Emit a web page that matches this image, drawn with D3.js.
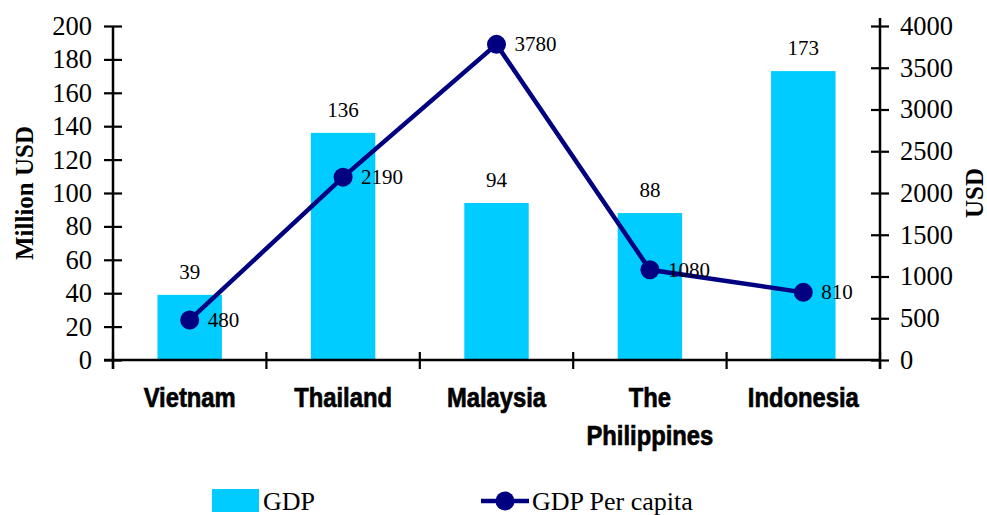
<!DOCTYPE html>
<html><head><meta charset="utf-8">
<script src="https://cdn.jsdelivr.net/npm/d3@7"></script>
<style>body{margin:0;background:#fff}</style>
</head><body>
<svg id="c" width="987" height="515"></svg>
<script>
const categories = ["Vietnam","Thailand","Malaysia","The\nPhilippines","Indonesia"];
const gdp = [39,136,94,88,173];
const gdpPerCapita = [480,2190,3780,1080,810];
const leftTicks = [0,20,40,60,80,100,120,140,160,180,200];
const rightTicks = [0,500,1000,1500,2000,2500,3000,3500,4000];

const svg = d3.select("#c");
const L=113, R=880, T=26, B=360;
const x = d3.scaleBand().domain(categories).range([L,R]).paddingInner(0).paddingOuter(0);
const yL = d3.scaleLinear().domain([0,200]).range([B,T]);
const yR = d3.scaleLinear().domain([0,4000]).range([B,T]);
const serif = "'Liberation Serif','Times New Roman',serif";
const sans = "'Liberation Sans',Arial,sans-serif";

// bars
const bw = x.bandwidth()*0.42;
svg.append("g").selectAll("rect").data(gdp).join("rect")
  .attr("x",(d,i)=>x(categories[i])+x.bandwidth()/2-bw/2)
  .attr("y",d=>yL(d)).attr("width",bw).attr("height",d=>B-yL(d))
  .attr("fill","#00CCFF");
svg.append("g").selectAll("text").data(gdp).join("text")
  .attr("x",(d,i)=>x(categories[i])+x.bandwidth()/2)
  .attr("y",d=>yL(d)-16).attr("text-anchor","middle")
  .attr("font-family",serif).attr("font-size",21).text(d=>d);

// axes
function styleAxis(g){
  g.select(".domain").attr("stroke","#000").attr("stroke-width",2.5);
  g.selectAll(".tick line").attr("stroke","#000").attr("stroke-width",2.2);
}
const gl = svg.append("g").attr("transform",`translate(${L},0)`)
  .call(d3.axisLeft(yL).tickValues(leftTicks).tickFormat(d3.format("d")).tickSize(9).tickSizeOuter(0));
styleAxis(gl);
gl.selectAll(".tick line").attr("x1",9).attr("x2",-9);
gl.selectAll(".tick text").attr("font-family",serif).attr("font-size",26.5).attr("fill","#000").attr("x",-21);

const gr = svg.append("g").attr("transform",`translate(${R},0)`)
  .call(d3.axisRight(yR).tickValues(rightTicks).tickFormat(d3.format("d")).tickSize(9).tickSizeOuter(0));
styleAxis(gr);
gr.selectAll(".tick line").attr("x1",-9).attr("x2",9);
gr.selectAll(".tick text").attr("font-family",serif).attr("font-size",26.5).attr("fill","#000").attr("x",20);
gr.select(".domain").attr("d",`M0,${T-8}V${B+9}`);
gl.select(".domain").attr("d",`M0,${T}V${B+9}`);

const gb = svg.append("g").attr("transform",`translate(0,${B})`)
  .call(d3.axisBottom(x).tickValues([]).tickSizeOuter(0));
gb.select(".domain").attr("stroke","#000").attr("stroke-width",2.5).attr("d",`M${L-9},0H${R}`);
const bticks = d3.range(categories.length+1).map(i=> i<categories.length ? x(categories[i]) : R);
gb.selectAll("line.bt").data(bticks).join("line").attr("class","bt")
  .attr("x1",d=>d).attr("x2",d=>d).attr("y1",-8).attr("y2",9)
  .attr("stroke","#000").attr("stroke-width",2.2);

// category labels
svg.append("g").selectAll("g").data(categories).join("g")
  .attr("transform",d=>`translate(${x(d)+x.bandwidth()/2},407) scale(0.85,1)`)
  .each(function(d){
    const t=d3.select(this).append("text").attr("text-anchor","middle")
      .attr("font-family",sans).attr("font-weight","bold").attr("font-size",28)
      .attr("fill","#000").attr("stroke","#000").attr("stroke-width",0.7);
    d.split("\n").forEach((p,j)=>t.append("tspan").attr("x",0).attr("dy",j?38:0).text(p));
  });

// line
const line = d3.line().x((d,i)=>x(categories[i])+x.bandwidth()/2).y(d=>yR(d));
svg.append("path").datum(gdpPerCapita).attr("d",line).attr("fill","none")
  .attr("stroke","#000080").attr("stroke-width",4.5);
svg.append("g").selectAll("circle").data(gdpPerCapita).join("circle")
  .attr("cx",(d,i)=>x(categories[i])+x.bandwidth()/2).attr("cy",d=>yR(d)).attr("r",9.5)
  .attr("fill","#000080");
svg.append("g").selectAll("text").data(gdpPerCapita).join("text")
  .attr("x",(d,i)=>x(categories[i])+x.bandwidth()/2+18).attr("y",d=>yR(d)+7)
  .attr("font-family",serif).attr("font-size",21).text(d=>d);

// axis titles
svg.append("text").attr("transform","translate(33,193) rotate(-90)").attr("text-anchor","middle")
  .attr("font-family",serif).attr("font-weight","bold").attr("font-size",25).text("Million USD");
svg.append("text").attr("transform","translate(983,193) rotate(-90)").attr("text-anchor","middle")
  .attr("font-family",serif).attr("font-weight","bold").attr("font-size",25).text("USD");

// legend
const lg = svg.append("g");
lg.append("rect").attr("x",212).attr("y",489).attr("width",47).attr("height",23).attr("fill","#00CCFF");
lg.append("text").attr("x",263).attr("y",510).attr("font-family",serif).attr("font-size",26).text("GDP");
lg.append("line").attr("x1",481).attr("x2",529).attr("y1",501).attr("y2",501).attr("stroke","#000080").attr("stroke-width",4.5);
lg.append("circle").attr("cx",505).attr("cy",501).attr("r",9.5).attr("fill","#000080");
lg.append("text").attr("x",532).attr("y",510).attr("font-family",serif).attr("font-size",26).text("GDP Per capita");
</script>
</body></html>
